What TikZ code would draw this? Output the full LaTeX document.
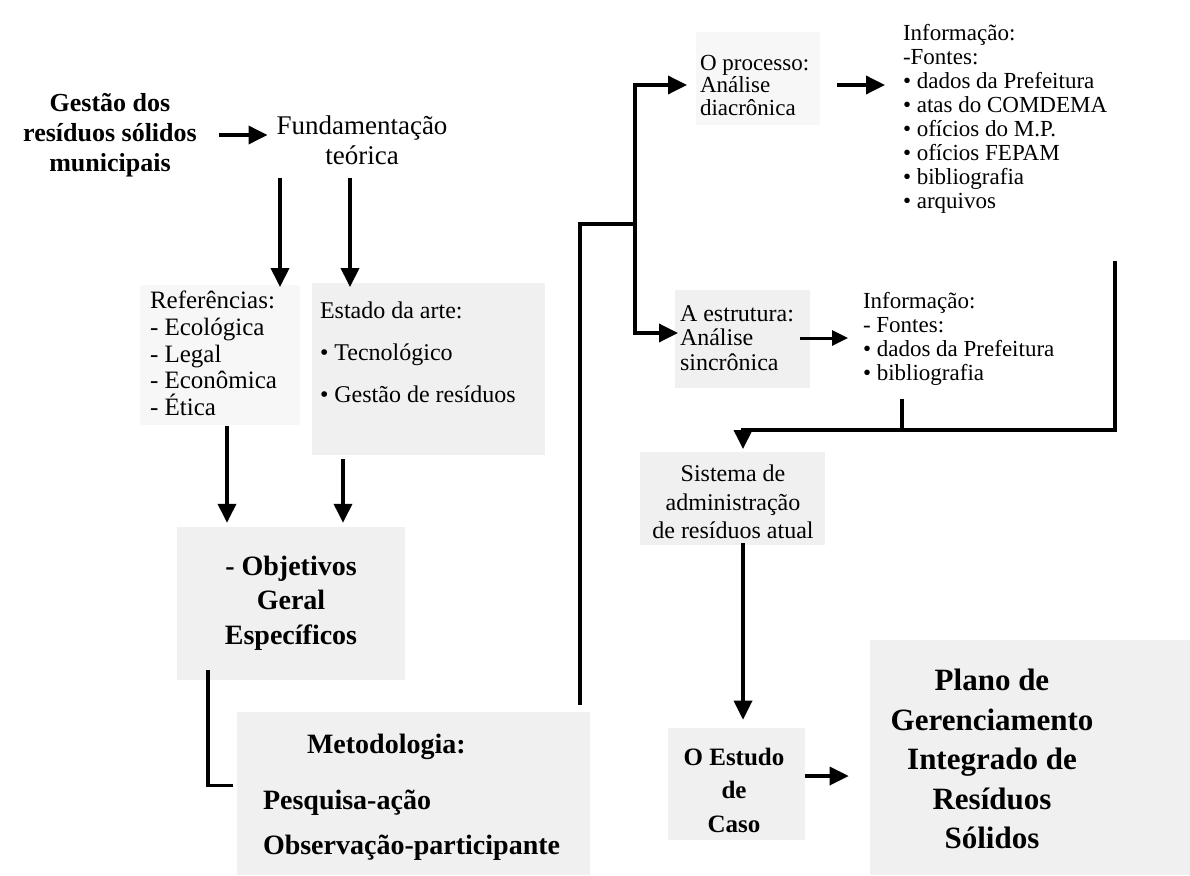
\documentclass[tikz,border=0pt]{standalone}
\usepackage{fontspec}
\setmainfont{Liberation Serif}
\usetikzlibrary{arrows.meta}
\newcommand\fsz[2]{\fontsize{#1pt}{#2pt}\selectfont}
\begin{document}
\begin{tikzpicture}[x=1pt,y=-1pt,
  txt/.style={inner sep=0pt, outer sep=0pt},
  conn/.style={line width=3.5pt},
  arr/.style={conn, -{Triangle[length=19pt,width=18pt]}},
  smallarr/.style={line width=3pt, -{Triangle[length=16pt,width=15pt]}},
  tint/.style={fill=black!6},
  faint/.style={fill=black!3}]
\useasboundingbox (0,0) rectangle (1190,875);

% stippled backgrounds of the text boxes
\fill[faint] (140,285) rectangle (300,425);
\fill[tint] (312,283) rectangle (545,455);
\fill[tint] (177,527) rectangle (405,680);
\fill[tint] (237,712) rectangle (590,875);
\fill[faint] (696,32) rectangle (820,125);
\fill[tint] (675,290) rectangle (810,388);
\fill[tint] (640,452) rectangle (825,545);
\fill[tint] (668,728) rectangle (805,840);
\fill[tint] (870,640) rectangle (1190,875);

% text blocks
\node[txt, align=center, font=\bfseries\fsz{26}{30}] (gestao) at (110,135) {Gestão dos\\resíduos sólidos\\municipais};
\node[txt, align=center, font=\fsz{27}{30}] (fund) at (362,140) {Fundamentação\\teórica};
\node[txt, align=left, anchor=west, font=\fsz{25}{26.75}] (ref) at (150,353.5) {Referências:\\- Ecológica\\- Legal\\- Econômica\\- Ética};
\node[txt, align=left, anchor=west, font=\fsz{24}{42}] (estado) at (320,352) {Estado da arte:\\• Tecnológico\\• Gestão de resíduos};
\node[txt, align=center, font=\bfseries\fsz{28}{34.5}] (objetivos) at (291,603) {- Objetivos\\Geral\\Específicos};
\node[txt, align=left, anchor=west, font=\bfseries\fsz{28}{45}] (metod) at (263,797.5) {\hspace*{44pt}Metodologia:\\[11pt]Pesquisa-ação\\Observação-participante};
\node[txt, align=left, anchor=west, font=\fsz{23}{22.5}] (processo) at (700,85) {O processo:\\Análise\\diacrônica};
\node[txt, align=left, anchor=west, font=\fsz{23}{24}] (info1) at (903,119) {Informação:\\-Fontes:\\• dados da Prefeitura\\• atas do COMDEMA\\• ofícios do M.P.\\• ofícios FEPAM\\• bibliografia\\• arquivos};
\node[txt, align=left, anchor=west, font=\fsz{24}{24.5}] (estrutura) at (680,338) {A estrutura:\\Análise\\sincrônica};
\node[txt, align=left, anchor=west, font=\fsz{23}{24}] (info2) at (863,339) {Informação:\\- Fontes:\\• dados da Prefeitura\\• bibliografia};
\node[txt, align=center, font=\fsz{24}{28.5}] (sistema) at (733,502) {Sistema de\\administração\\de resíduos atual};
\node[txt, align=center, font=\bfseries\fsz{25}{33.5}] (estudo) at (734,790) {O Estudo\\de\\Caso};
\node[txt, align=center, font=\bfseries\fsz{31}{39.5}] (plano) at (992,759) {Plano de\\Gerenciamento\\Integrado de\\Resíduos\\Sólidos};

% left column connectors
\draw[arr, shorten <=22pt, shorten >=9pt] (gestao.east) -- (gestao.east -| fund.west);
\draw[arr, shorten <=13pt, shorten >=4pt] ([xshift=-82pt]fund.south) -- ([xshift=-82pt]fund.south |- ref.north);
\draw[arr, shorten <=13pt, shorten >=4pt] ([xshift=-12pt]fund.south) -- ([xshift=-12pt]fund.south |- ref.north);
\draw[arr, shorten <=10pt, shorten >=33pt] ([xshift=77pt]ref.south west) -- ([xshift=77pt]ref.south west |- objetivos.north);
\draw[arr, shorten <=57pt, shorten >=33pt] ([xshift=23pt]estado.south west) -- ([xshift=23pt]estado.south west |- objetivos.north);
\draw[conn] ([shift={(-83pt,-20pt)}]objetivos.south) |- ([shift={(-30pt,12pt)}]metod.west);

% branch towards the two analyses
\coordinate (mtop) at (580,705);
\coordinate (junc) at (635,224);
\draw[conn] (mtop) |- (junc);
\draw[arr, shorten >=13pt] (junc) |- (processo.west);
\draw[arr, shorten >=2pt] (junc) |- ([yshift=5pt]estrutura.west);
\draw[arr, shorten <=28pt, shorten >=18pt] (processo.east) -- (processo.east -| info1.west);
\draw[smallarr, shorten <=6pt, shorten >=15pt] (estrutura.east) -- (estrutura.east -| info2.west);

% merging of the sources into the current system
\coordinate (rtop) at (1115,261);
\coordinate (hbar) at (743,430);
\draw[arr, shorten >=16pt] (rtop) |- (hbar) -- (hbar |- sistema.north);
\draw[conn, shorten <=13pt] ([xshift=39pt]info2.south west) -- ([xshift=39pt]info2.south west |- hbar);
\draw[arr, shorten <=4pt, shorten >=28pt] (hbar |- sistema.south) -- (hbar |- estudo.north);
\draw[arr, shorten <=21pt, shorten >=42pt] ([yshift=14pt]estudo.east) -- ([yshift=14pt]estudo.east -| plano.west);
\end{tikzpicture}
\end{document}
